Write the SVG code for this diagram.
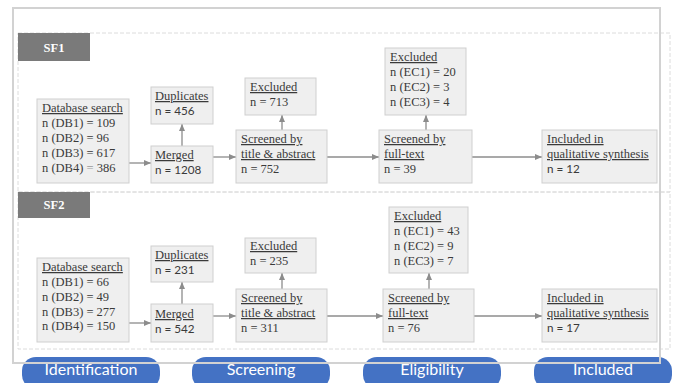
<svg xmlns="http://www.w3.org/2000/svg" width="675" height="383" viewBox="0 0 675 383">
<defs>
<style>
.box{fill:#efefef;stroke:#cfcfcf;stroke-width:1}
.t{font-family:"Liberation Serif",serif;font-size:12.5px;fill:#3a3a3a}
.s{font-family:Lato,"Liberation Sans",sans-serif;font-size:11.7px;fill:#3a3a3a}
.u{text-decoration:underline}
.sec{fill:none;stroke:#dcdcdc;stroke-width:1;stroke-dasharray:4 2}
.lab{fill:#7a7a7a}
.labt{font-family:"Liberation Serif",serif;font-weight:bold;font-size:12.5px;fill:#fff}
.con{stroke:#8c8c8c;stroke-width:1.3;fill:none;marker-end:url(#ah)}
.pill{fill:#4472c4}
.pt{font-family:Lato,"Liberation Sans",sans-serif;font-size:16px;fill:#fff;text-anchor:middle}
</style>
<marker id="ah" markerWidth="8" markerHeight="8" refX="7" refY="4" orient="auto" markerUnits="userSpaceOnUse">
<path d="M0,1 L7,4 L0,7 Z" fill="#8c8c8c"/>
</marker>
</defs>
<rect width="675" height="383" fill="#fff"/>

<g id="sections">
<rect class="sec" x="18" y="33" width="652" height="159"/>
<rect class="sec" x="18" y="192" width="652" height="157"/>
</g>
<g id="label-sf1"><rect class="lab" x="18" y="33" width="72" height="28"/><text class="labt" x="54" y="52" text-anchor="middle">SF1</text></g>
<g id="label-sf2"><rect class="lab" x="18" y="192" width="72" height="26"/><text class="labt" x="54" y="209" text-anchor="middle">SF2</text></g>

<g id="connectors">
<line class="con" x1="129" y1="163" x2="151" y2="163"/>
<line class="con" x1="213" y1="157" x2="236" y2="157"/>
<line class="con" x1="327" y1="157" x2="379" y2="157"/>
<line class="con" x1="472" y1="157" x2="542" y2="157"/>
<line class="con" x1="182" y1="146" x2="182" y2="124"/>
<line class="con" x1="282" y1="130" x2="282" y2="115"/>
<line class="con" x1="426" y1="130" x2="426" y2="115"/>
<line class="con" x1="129" y1="323" x2="151" y2="323"/>
<line class="con" x1="213" y1="316" x2="236" y2="316"/>
<line class="con" x1="327" y1="316" x2="383" y2="316"/>
<line class="con" x1="474" y1="316" x2="542" y2="316"/>
<line class="con" x1="182" y1="304" x2="182" y2="282"/>
<line class="con" x1="282" y1="289" x2="282" y2="273"/>
<line class="con" x1="429" y1="289" x2="429" y2="273"/>
</g>

<g id="sf1-db"><rect class="box" x="37" y="99" width="92" height="84"/>
<text class="t" x="42"><tspan class="u" x="42" y="112">Database search</tspan><tspan x="42" y="127">n (DB1) = 109</tspan><tspan x="42" y="142">n (DB2) = 96</tspan><tspan x="42" y="157">n (DB3) = 617</tspan><tspan x="42" y="172">n (DB4) <tspan fill="#9a9a9a">=</tspan> 386</tspan></text></g>
<g id="sf1-dup"><rect class="box" x="151" y="87" width="62" height="37"/>
<text class="t u" x="155" y="100">Duplicates</text><text class="s" x="155" y="115">n = 456</text></g>
<g id="sf1-merged"><rect class="box" x="151" y="146" width="62" height="37"/>
<text class="t u" x="155" y="159">Merged</text><text class="s" x="155" y="174">n = 1208</text></g>
<g id="sf1-exc1"><rect class="box" x="245" y="78" width="71" height="37"/>
<text class="t u" x="250" y="91">Excluded</text><text class="t" x="250" y="106">n = 713</text></g>
<g id="sf1-title"><rect class="box" x="236" y="130" width="91" height="53"/>
<text class="t"><tspan class="u" x="241" y="143">Screened by</tspan><tspan class="u" x="241" y="158">title &amp; abstract</tspan><tspan x="241" y="173">n = 752</tspan></text></g>
<g id="sf1-exc2"><rect class="box" x="385" y="48" width="81" height="67"/>
<text class="t"><tspan class="u" x="390" y="61">Excluded</tspan><tspan x="390" y="76">n (EC1) = 20</tspan><tspan x="390" y="91">n (EC2) = 3</tspan><tspan x="390" y="106">n (EC3) = 4</tspan></text></g>
<g id="sf1-full"><rect class="box" x="379" y="130" width="93" height="53"/>
<text class="t"><tspan class="u" x="384" y="143">Screened by</tspan><tspan class="u" x="384" y="158">full-text</tspan><tspan x="384" y="173">n = 39</tspan></text></g>
<g id="sf1-incl"><rect class="box" x="542" y="130" width="115" height="53"/>
<text class="t"><tspan class="u" x="547" y="143">Included in</tspan><tspan class="u" x="547" y="158">qualitative synthesis</tspan></text><text class="s" x="547" y="173">n = 12</text></g>

<g id="sf2-db"><rect class="box" x="37" y="258" width="92" height="84"/>
<text class="t"><tspan class="u" x="42" y="271">Database search</tspan><tspan x="42" y="286">n (DB1) = 66</tspan><tspan x="42" y="301">n (DB2) = 49</tspan><tspan x="42" y="316">n (DB3) = 277</tspan><tspan x="42" y="330">n (DB4) = 150</tspan></text></g>
<g id="sf2-dup"><rect class="box" x="151" y="246" width="62" height="36"/>
<text class="t u" x="155" y="259">Duplicates</text><text class="s" x="155" y="274">n = 231</text></g>
<g id="sf2-merged"><rect class="box" x="151" y="304" width="62" height="38"/>
<text class="t u" x="155" y="318">Merged</text><text class="s" x="155" y="333">n = 542</text></g>
<g id="sf2-exc1"><rect class="box" x="245" y="238" width="71" height="35"/>
<text class="t u" x="250" y="250">Excluded</text><text class="t" x="250" y="265">n = 235</text></g>
<g id="sf2-title"><rect class="box" x="236" y="289" width="91" height="53"/>
<text class="t"><tspan class="u" x="241" y="302">Screened by</tspan><tspan class="u" x="241" y="317">title &amp; abstract</tspan><tspan x="241" y="332">n = 311</tspan></text></g>
<g id="sf2-exc2"><rect class="box" x="389" y="207" width="79" height="66"/>
<text class="t"><tspan class="u" x="394" y="220">Excluded</tspan><tspan x="394" y="235">n (EC1) = 43</tspan><tspan x="394" y="250">n (EC2) = 9</tspan><tspan x="394" y="265">n (EC3) = 7</tspan></text></g>
<g id="sf2-full"><rect class="box" x="383" y="289" width="91" height="53"/>
<text class="t"><tspan class="u" x="388" y="302">Screened by</tspan><tspan class="u" x="388" y="317">full-text</tspan><tspan x="388" y="332">n = 76</tspan></text></g>
<g id="sf2-incl"><rect class="box" x="542" y="289" width="115" height="53"/>
<text class="t"><tspan class="u" x="547" y="302">Included in</tspan><tspan class="u" x="547" y="317">qualitative synthesis</tspan></text><text class="s" x="547" y="332">n = 17</text></g>

<g id="phase-identification"><rect class="pill" x="22" y="357" width="138" height="32" rx="14"/><text class="pt" x="91" y="375">Identification</text></g>
<g id="phase-screening"><rect class="pill" x="192" y="357" width="138" height="32" rx="14"/><text class="pt" x="261" y="375">Screening</text></g>
<g id="phase-eligibility"><rect class="pill" x="363" y="357" width="138" height="32" rx="14"/><text class="pt" x="432" y="375">Eligibility</text></g>
<g id="phase-included"><rect class="pill" x="534" y="357" width="138" height="32" rx="14"/><text class="pt" x="603" y="375">Included</text></g>

<rect id="frame" x="13" y="8" width="647" height="355" fill="none" stroke="#d2d2d2" stroke-width="2"/>
</svg>
